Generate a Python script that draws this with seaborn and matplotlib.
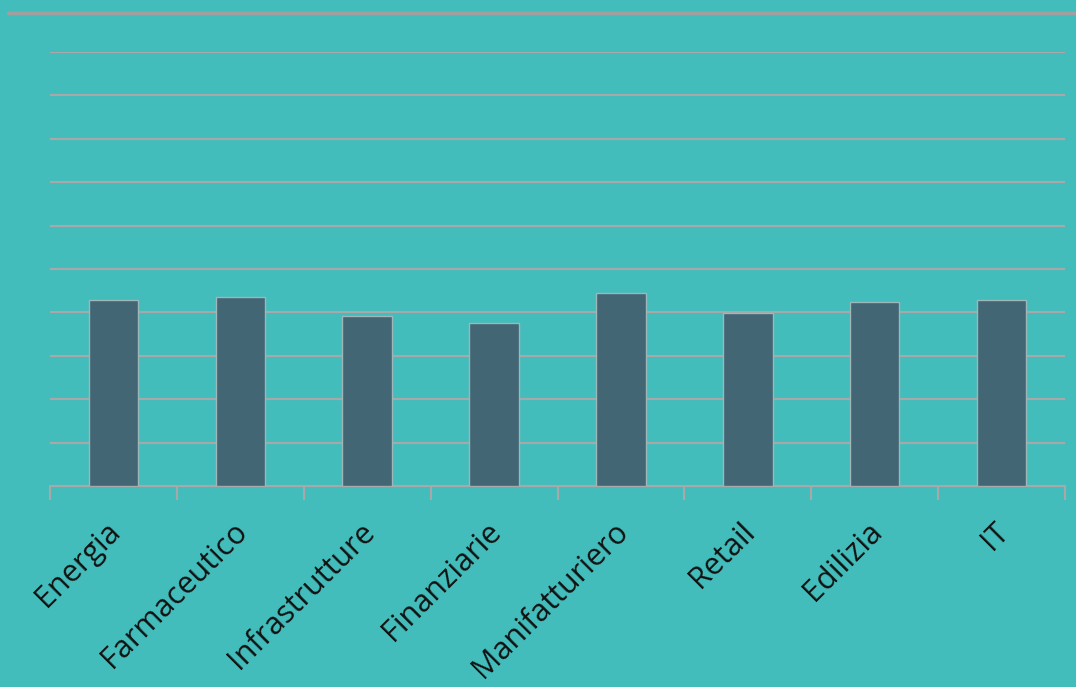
import numpy as np
import pandas as pd
import matplotlib
matplotlib.use('Agg')
import matplotlib.pyplot as plt
import matplotlib.transforms as mtransforms
import seaborn as sns
from matplotlib.lines import Line2D

# Chart data
sectors = ['Energia', 'Farmaceutico', 'Infrastrutture', 'Finanziarie',
           'Manifatturiero', 'Retail', 'Edilizia', 'IT']
values = [4.29, 4.36, 3.92, 3.76, 4.45, 3.99, 4.25, 4.29]

df = pd.DataFrame({'sector': sectors, 'value': values})

bg = '#43BDBB'
sns.set_style('white')
plt.rcParams['font.family'] = ['Open Sans', 'DejaVu Sans']

fig = plt.figure(figsize=(10.76, 6.87), dpi=100, facecolor=bg)
ax = fig.add_axes([0.0465, 0.2926, 0.9433, 0.6317])
ax.set_facecolor(bg)

sns.barplot(data=df, x='sector', y='value', color='#426674', width=0.39,
            edgecolor='#9DB7BA', linewidth=1.0, saturation=1, ax=ax, zorder=3)

ax.set_ylim(0, 10)
ax.set_xlim(-0.5, len(sectors) - 0.5)
ax.set_yticks(np.arange(0, 11, 1))
ax.yaxis.grid(True, color='#A8A8A8', linewidth=1.5, zorder=0)
ax.set_axisbelow(True)
ax.tick_params(axis='y', left=False, labelleft=False)

# category labels, and ticks on the category boundaries
ax.set_xticks(range(len(sectors)))
ax.set_xticklabels(sectors, rotation=45, ha='right', rotation_mode='anchor',
                   fontsize=22, color='#111111')
ax.set_xticks(np.arange(-0.5, len(sectors), 1), minor=True)
ax.tick_params(axis='x', which='minor', bottom=True, length=10, width=1.5,
               color='#A8A8A8', direction='out')
ax.tick_params(axis='x', which='major', bottom=True, length=0, pad=22)
shift = mtransforms.ScaledTranslation(-8 / 100, 0, fig.dpi_scale_trans)
for lbl in ax.get_xticklabels():
    lbl.set_transform(lbl.get_transform() + shift)

for s in ['top', 'right', 'left']:
    ax.spines[s].set_visible(False)
ax.spines['bottom'].set_color('#A8A8A8')
ax.spines['bottom'].set_linewidth(1.5)

ax.set_xlabel('')
ax.set_ylabel('')

# top separator line
fig.add_artist(Line2D([8 / 1076, 1.0], [1 - 13 / 687, 1 - 13 / 687],
                      color='#A0A0A0', linewidth=2.5, transform=fig.transFigure))

fig.savefig('out.png', dpi=100, facecolor=bg)
